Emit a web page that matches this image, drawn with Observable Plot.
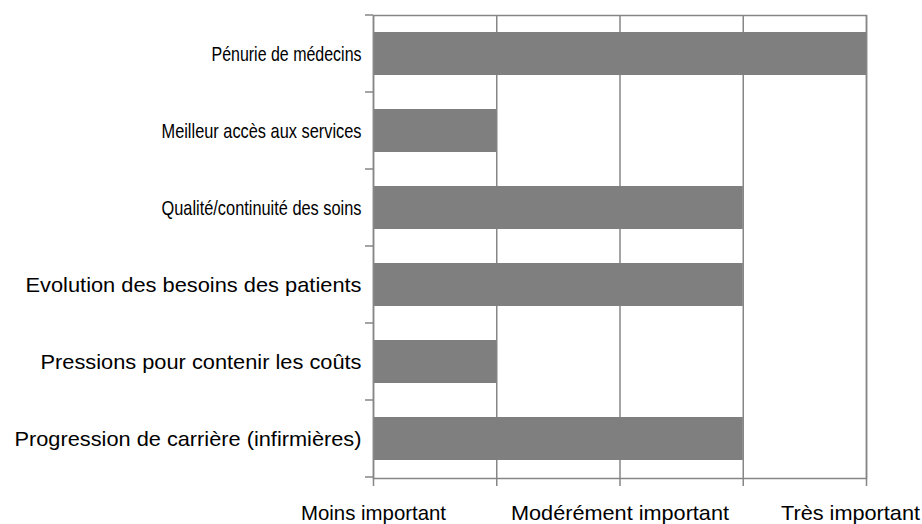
<!DOCTYPE html>
<html>
<head>
<meta charset="utf-8">
<script src="https://cdn.jsdelivr.net/npm/d3@7"></script>
<script src="https://cdn.jsdelivr.net/npm/@observablehq/plot@0.6"></script>
<style>
  html, body { margin: 0; padding: 0; background: #fff; }
  #chart svg { display: block; }
</style>
</head>
<body>
<div id="chart"></div>
<script>
const categories = [
  "Pénurie de médecins",
  "Meilleur accès aux services",
  "Qualité/continuité des soins",
  "Evolution des besoins des patients",
  "Pressions pour contenir les coûts",
  "Progression de carrière (infirmières)"
];
const values = [3, 1.5, 2.5, 2.5, 1.5, 2.5];
const tickValues = [1, 1.5, 2, 2.5, 3];
const tickLabels = {1: "Moins important", 2: "Modérément important", 3: "Très important"};

// rendered text widths seen in the reference (styling only)
const yLabelWidths = [150, 200, 200, 336, 321, 347];
const xLabelWidths = {1: 145, 2: 218, 3: 139};

const data = categories.map((c, i) => ({category: c, value: values[i]}));
const gray = "#868686";

const chart = Plot.plot({
  width: 922,
  height: 524,
  marginLeft: 373,
  marginRight: 56,
  marginTop: 15,
  marginBottom: 46,
  style: {fontFamily: "Liberation Sans, Arial, sans-serif", fontSize: "21px", color: "#000", background: "#fff"},
  x: {domain: [1, 3], ticks: tickValues, label: null},
  y: {domain: categories, paddingInner: 0.44, paddingOuter: 0.22, label: null},
  marks: [
    Plot.ruleX(tickValues, {stroke: gray, strokeWidth: 1.5, strokeOpacity: 1}),
    Plot.barX(data, {x1: 1, x2: "value", y: "category", fill: "#7f7f7f"}),
    Plot.frame({stroke: gray, strokeWidth: 1.5}),
    Plot.axisX(tickValues, {
      tickSize: 8, stroke: gray, strokeWidth: 1.5, tickPadding: 19,
      tickFormat: d => tickLabels[d] ?? "", fontSize: 21, fill: "#000"
    }),
    Plot.axisY({
      tickSize: 0, tickPadding: 12, fontSize: 21, fill: "#000"
    })
  ]
});
document.getElementById("chart").appendChild(chart);

const svg = d3.select(chart);

// fit label widths to the reference
svg.selectAll('g[aria-label="y-axis tick label"] text').each(function() {
  const idx = categories.indexOf(this.textContent);
  if (idx >= 0) {
    d3.select(this).attr("textLength", yLabelWidths[idx]).attr("lengthAdjust", "spacingAndGlyphs");
  }
});
svg.selectAll('g[aria-label="x-axis tick label"] text').each(function() {
  const key = Object.keys(tickLabels).find(k => tickLabels[k] === this.textContent);
  if (key) {
    const t = d3.select(this).attr("textLength", xLabelWidths[key]).attr("lengthAdjust", "spacingAndGlyphs");
    if (key === "3") t.attr("dx", -16);
  }
});

// y-axis tick marks at category boundaries (from the band scale)
const yScale = chart.scale("y");
const step = yScale.step;
const boundaries = categories.map(c => yScale.apply(c) - (step - yScale.bandwidth) / 2);
boundaries.push(boundaries[boundaries.length - 1] + step);
const x0 = chart.scale("x").apply(1);
svg.append("g").selectAll("line").data(boundaries).join("line")
  .attr("x1", x0 - 8).attr("x2", x0)
  .attr("y1", d => d).attr("y2", d => d)
  .attr("stroke", gray).attr("stroke-width", 1.5);
</script>
</body>
</html>
